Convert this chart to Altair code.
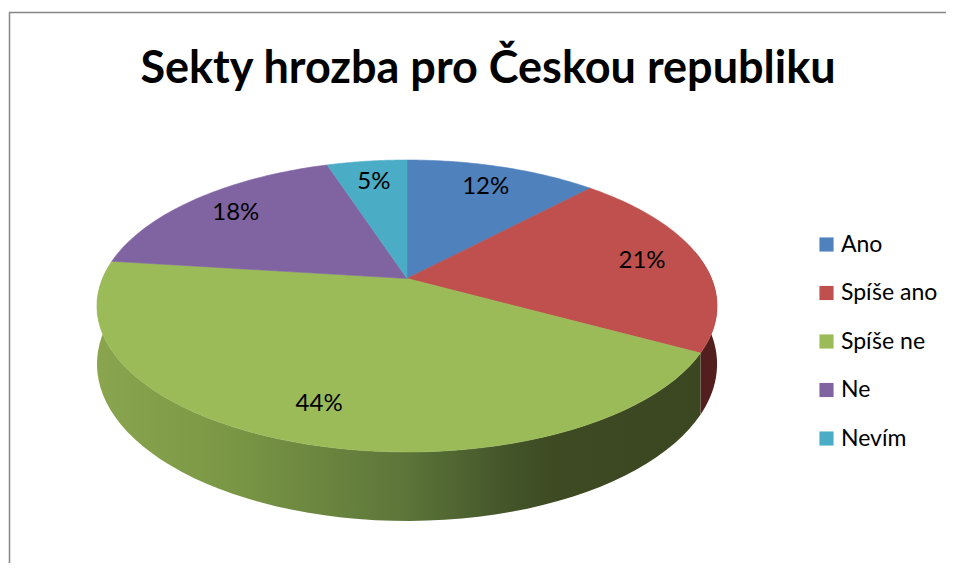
import altair as alt
import pandas as pd

# ---- data ----
categories = ["Ano", "Spíše ano", "Spíše ne", "Ne", "Nevím"]
values = [12, 21, 44, 18, 5]
colors = ["#4F81BD", "#C0504D", "#9BBB59", "#8064A2", "#4BACC6"]
title_text = "Sekty hrozba pro Českou republiku"

df = pd.DataFrame({"category": categories, "value": values, "order": list(range(len(categories)))})

# ---- 3D-pie projection parameters (layout only) ----
CX, CY = 407, 278.5      # pie centre (image px)
S, SS, K = 304.5, 140.8, 0.1883   # horizontal radius, vertical radius, perspective
DH = 56                  # wall depth
N = 60                   # arc resolution
W, H = 938, 555
FONT = "Lato"

xs = alt.Scale(domain=[8, 8 + W], nice=False, zero=False)
ys = alt.Scale(domain=[8, 8 + H], nice=False, zero=False, reverse=True)
cscale = alt.Scale(domain=categories, range=colors)

def proj(rho_expr, th_expr):
    ux = f"({rho_expr})*sin({th_expr})"
    uz = f"({rho_expr})*cos({th_expr})"
    px = f"{CX} + {S}*{ux}/(1+{K}*{uz})"
    py = f"{CY} - {SS}*{uz}/(1+{K}*{uz})"
    return px, py, uz

base = (
    alt.Chart(df)
    .transform_window(cum="sum(value)", sort=[alt.SortField("order")], frame=[None, 0])
    .transform_joinaggregate(total="sum(value)")
    .transform_calculate(
        t0="2*PI*(datum.cum - datum.value)/datum.total",
        t1="2*PI*datum.cum/datum.total",
    )
)

# top face
px, py, _ = proj("datum.seq == 0 ? 0 : 1", "datum.th")
top = (
    base.transform_calculate(seq=f"sequence(0, {N + 2})")
    .transform_flatten(["seq"])
    .transform_calculate(th=f"datum.t0 + (datum.t1 - datum.t0)*max(datum.seq - 1, 0)/{N}")
    .transform_calculate(px=px, py=py)
    .mark_line(filled=True, interpolate="linear-closed", strokeWidth=0.6)
    .encode(
        x=alt.X("px:Q", scale=xs, axis=None),
        y=alt.Y("py:Q", scale=ys, axis=None),
        order=alt.Order("seq:Q"),
        detail="category:N",
        color=alt.Color(
            "category:N",
            scale=cscale,
            legend=alt.Legend(
                title=None,
                orient="none",
                legendX=807,
                legendY=225,
                symbolType="square",
                symbolSize=200,
                symbolStrokeWidth=0,
                labelFont=FONT,
                labelFontSize=23,
                labelColor="#000000",
                labelOffset=3,
                rowPadding=24.5,
                padding=0,
            ),
        ),
        stroke=alt.Stroke("category:N", scale=cscale, legend=None),
    )
)

# side wall (front half only)
wall_base = (
    base.transform_calculate(a="max(datum.t0, PI/2 - 0.2)", b="min(datum.t1, 3*PI/2 + 0.2)")
    .transform_filter("datum.a < datum.b")
    .transform_calculate(seq=f"sequence(0, {2 * N + 2})")
    .transform_flatten(["seq"])
    .transform_calculate(
        istop=f"datum.seq <= {N}",
        th=f"datum.seq <= {N} ? datum.a + (datum.b - datum.a)*datum.seq/{N} : datum.b - (datum.b - datum.a)*(datum.seq - {N} - 1)/{N}",
    )
    .transform_calculate(
        px=f"{CX} + {S}*sin(datum.th)/(1+{K}*cos(datum.th))",
        py=f"{CY} - {SS}*cos(datum.th)/(1+{K}*cos(datum.th)) + (datum.istop ? 0 : {DH}/(1+{K}*cos(datum.th)))",
    )
)
wall_enc = dict(
    x=alt.X("px:Q", scale=xs, axis=None),
    y=alt.Y("py:Q", scale=ys, axis=None),
    order=alt.Order("seq:Q"),
    detail="category:N",
)
green_grad = alt.Gradient(
    gradient="linear",
    x1=0, x2=1, y1=0, y2=0,
    stops=[
        alt.GradientStop(color="#8AA54E", offset=0),
        alt.GradientStop(color="#7A9745", offset=0.22),
        alt.GradientStop(color="#5E773A", offset=0.5),
        alt.GradientStop(color="#44552A", offset=0.68),
        alt.GradientStop(color="#3D4A22", offset=0.76),
        alt.GradientStop(color="#3B4721", offset=1),
    ],
)
wall_green = (
    wall_base.transform_filter(alt.datum.category == "Spíše ne")
    .mark_line(filled=True, interpolate="linear-closed", fill=green_grad, strokeWidth=0)
    .encode(**wall_enc)
)
wall_red = (
    wall_base.transform_filter(alt.datum.category == "Spíše ano")
    .mark_line(filled=True, interpolate="linear-closed", fill="#521F1E", strokeWidth=0)
    .encode(**wall_enc)
)

# percentage labels
lx, ly, _ = proj("0.8", "(datum.t0 + datum.t1)/2")
labels = (
    base.transform_calculate(px=lx, py=ly, label="format(datum.value/datum.total*100, 'd') + '%'")
    .mark_text(font=FONT, fontSize=24, color="#000000", align="center", baseline="middle")
    .encode(
        x=alt.X("px:Q", scale=xs, axis=None),
        y=alt.Y("py:Q", scale=ys, axis=None),
        text="label:N",
    )
)

# title and chart border (decoration)
title = (
    alt.Chart(pd.DataFrame({"t": [title_text]}))
    .mark_text(font=FONT, fontSize=45, fontWeight="bold", color="#000000", align="center", baseline="alphabetic")
    .encode(x=alt.value(480), y=alt.value(75), text="t:N")
)
frame_top = (
    alt.Chart(pd.DataFrame({"t": [0]}))
    .mark_rule(color="#878787", strokeWidth=1.5)
    .encode(x=alt.value(1), x2=alt.value(W), y=alt.value(4.5))
)
frame_left = (
    alt.Chart(pd.DataFrame({"t": [0]}))
    .mark_rule(color="#878787", strokeWidth=1.5)
    .encode(x=alt.value(1.5), y=alt.value(4), y2=alt.value(H + 10))
)

chart = (
    alt.layer(frame_top, frame_left, wall_red, wall_green, top, labels, title)
    .properties(width=W, height=H, autosize=alt.AutoSizeParams(type="none"), padding=0)
    .configure_view(stroke=None)
)

chart.save("out.html", embed_options={"renderer": "svg", "actions": False})
